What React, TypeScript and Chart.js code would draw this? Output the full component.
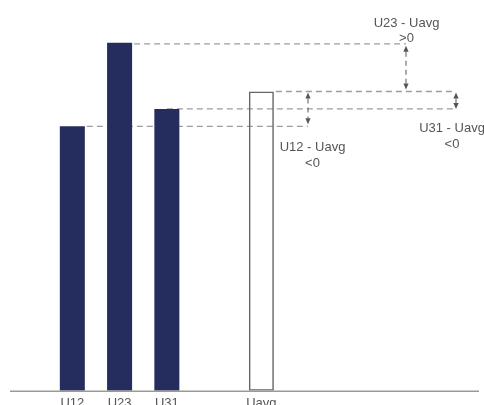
import { useEffect, useRef } from 'react';
import { Chart, registerables } from 'chart.js';

Chart.register(...registerables);

// ---- data ----
const categories = ['U12', 'U23', 'U31', '', 'Uavg'];
const phaseValues = [76, 100, 81];
const avgValue = 86;
const diffLabels = ['U12 - Uavg', 'U23 - Uavg', 'U31 - Uavg'];
const diffSigns = ['<0', '>0', '<0'];
const yMax = 110;

const barValues = [...phaseValues, null, avgValue];

const NAVY = '#252c5e';
const GUIDE = '#9d9d9d';
const INK = '#555555';
const FAMILY = '"Liberation Sans", Arial, Helvetica, sans-serif';
const FONT = '13px ' + FAMILY;

function arrow(ctx: CanvasRenderingContext2D, x: number, yTop: number, yBot: number) {
  const hl = 6;
  const hw = 2.6;
  ctx.save();
  ctx.strokeStyle = '#666';
  ctx.lineWidth = 1.1;
  ctx.setLineDash([5, 4]);
  if (yBot - yTop > 2 * hl) {
    ctx.beginPath();
    ctx.moveTo(x, yTop + hl);
    ctx.lineTo(x, yBot - hl);
    ctx.stroke();
  }
  ctx.setLineDash([]);
  ctx.fillStyle = '#555';
  ctx.beginPath();
  ctx.moveTo(x, yTop);
  ctx.lineTo(x - hw, yTop + hl);
  ctx.lineTo(x + hw, yTop + hl);
  ctx.closePath();
  ctx.fill();
  ctx.beginPath();
  ctx.moveTo(x, yBot);
  ctx.lineTo(x - hw, yBot - hl);
  ctx.lineTo(x + hw, yBot - hl);
  ctx.closePath();
  ctx.fill();
  ctx.restore();
}

const guidesPlugin = {
  id: 'guides',
  beforeDatasetsDraw(chart: any) {
    const { ctx, scales } = chart;
    const y = scales.y;
    const meta = chart.getDatasetMeta(0);
    const b = (i: number) => meta.data[i];
    const y12 = y.getPixelForValue(phaseValues[0]);
    const y23 = y.getPixelForValue(phaseValues[1]);
    const y31 = y.getPixelForValue(phaseValues[2]);
    const yAvg = y.getPixelForValue(avgValue);
    const right = chart.chartArea.right;
    const xU23 = right + 121;
    const xU12 = right + 23;
    const xU31 = right + 171;
    ctx.save();
    ctx.strokeStyle = GUIDE;
    ctx.lineWidth = 1.3;
    ctx.setLineDash([6, 4]);
    const seg = (x1: number, x2: number, yy: number) => {
      ctx.beginPath();
      ctx.moveTo(x1, yy);
      ctx.lineTo(x2, yy);
      ctx.stroke();
    };
    seg(b(1).x + b(1).width / 2 + 2, xU23, y23 + 1);
    seg(b(4).x + b(4).width / 2 + 2, xU31 - 2, yAvg);
    seg(b(2).x, xU31 - 2, y31);
    seg(b(0).x + b(0).width / 2 + 2, xU12, y12);
    ctx.restore();
  },
  afterDatasetsDraw(chart: any) {
    const { ctx, scales, chartArea } = chart;
    const y = scales.y;
    const y12 = y.getPixelForValue(phaseValues[0]);
    const y23 = y.getPixelForValue(phaseValues[1]);
    const y31 = y.getPixelForValue(phaseValues[2]);
    const yAvg = y.getPixelForValue(avgValue);
    const right = chartArea.right;
    const xU23 = right + 121;
    const xU12 = right + 23;
    const xU31 = right + 171;

    // baseline
    ctx.save();
    ctx.strokeStyle = '#9a9a9a';
    ctx.lineWidth = 1.5;
    ctx.beginPath();
    ctx.moveTo(10, chartArea.bottom + 0.5);
    ctx.lineTo(479, chartArea.bottom + 0.5);
    ctx.stroke();
    ctx.restore();

    arrow(ctx, xU23, y23 + 3, yAvg - 2);
    arrow(ctx, xU12, yAvg + 1, y12 - 2);
    arrow(ctx, xU31, yAvg + 1, y31);

    ctx.save();
    ctx.font = FONT;
    ctx.fillStyle = INK;
    ctx.textAlign = 'center';
    ctx.textBaseline = 'alphabetic';
    ctx.fillText(diffLabels[1], xU23 + 0.5, 26.7);
    ctx.fillText(diffSigns[1], xU23 + 0.5, 41.7);
    ctx.fillText(diffLabels[2], xU31 - 4, 131.7);
    ctx.fillText(diffSigns[2], xU31 - 4, 148);
    ctx.fillText(diffLabels[0], xU12 + 4.5, 150.7);
    ctx.fillText(diffSigns[0], xU12 + 4.5, 167);
    ctx.restore();
  },
};

export default function App() {
  const ref = useRef<HTMLCanvasElement | null>(null);
  useEffect(() => {
    if (!ref.current) return;
    const chart = new Chart(ref.current, {
      type: 'bar',
      data: {
        labels: categories,
        datasets: [
          {
            data: barValues as any,
            backgroundColor: [NAVY, NAVY, NAVY, 'rgba(0,0,0,0)', 'rgba(0,0,0,0)'],
            borderColor: [NAVY, NAVY, NAVY, '#666', '#666'],
            borderWidth: [0, 0, 0, 0, 1.5],
            borderSkipped: false,
            categoryPercentage: 1,
            barPercentage: 0.529,
          },
        ],
      },
      options: {
        animation: false,
        responsive: true,
        maintainAspectRatio: false,
        layout: { padding: { left: 48.7, right: 199, top: 8, bottom: 3.6 } },
        plugins: { legend: { display: false }, tooltip: { enabled: false } },
        scales: {
          x: {
            grid: { display: false, drawTicks: false },
            border: { display: false },
            ticks: {
              color: INK,
              padding: 5,
              font: { family: FAMILY, size: 13 },
            },
          },
          y: { display: false, min: 0, max: yMax },
        },
      },
      plugins: [guidesPlugin],
    });
    return () => chart.destroy();
  }, []);
  return (
    <div style={{ position: 'fixed', left: 0, top: 0, width: 484, height: 420, background: '#fff' }}>
      <canvas ref={ref} style={{ display: 'block' }} />
    </div>
  );
}
